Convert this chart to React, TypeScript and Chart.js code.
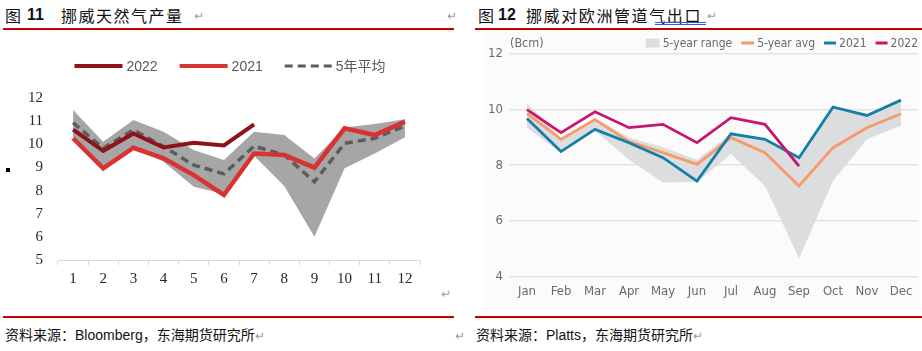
import React, { useEffect, useRef } from "react";
import { Chart, registerables } from "chart.js";

Chart.register(...registerables);

// ---------- Left chart (图11 挪威天然气产量) ----------
const leftCategories = ["1", "2", "3", "4", "5", "6", "7", "8", "9", "10", "11", "12"];
const left2022 = [10.63, 9.72, 10.47, 9.86, 10.07, 9.95, 10.86];
const left2021 = [10.26, 8.96, 9.85, 9.39, 8.67, 7.81, 9.6, 9.54, 8.99, 10.69, 10.4, 10.98];
const leftAvg = [10.93, 9.83, 10.62, 9.9, 9.1, 8.72, 9.92, 9.54, 8.38, 10.04, 10.26, 10.79];
const leftRangeMax = [11.48, 10.11, 11.05, 10.54, 9.75, 9.32, 10.54, 10.4, 9.39, 10.73, 10.88, 11.08];
const leftRangeMin = [10.3, 9.0, 9.85, 9.25, 8.17, 7.85, 9.5, 8.2, 6.0, 8.96, 9.6, 10.3];
const leftSeriesNames = ["2022", "2021", "5年平均"];

// ---------- Right chart (图12 挪威对欧洲管道气出口) ----------
const rightCategories = ["Jan", "Feb", "Mar", "Apr", "May", "Jun", "Jul", "Aug", "Sep", "Oct", "Nov", "Dec"];
const right2022 = [10.0, 9.17, 9.92, 9.35, 9.47, 8.81, 9.71, 9.47, 7.97];
const right2021 = [9.68, 8.49, 9.29, 8.81, 8.27, 7.43, 9.13, 8.93, 8.27, 10.09, 9.79, 10.34];
const rightAvg = [9.86, 8.93, 9.64, 8.85, 8.45, 8.03, 8.99, 8.45, 7.25, 8.63, 9.35, 9.85];
const rightRangeMax = [10.24, 8.98, 9.7, 9.0, 8.65, 8.2, 9.15, 8.95, 8.3, 10.0, 9.78, 10.3];
const rightRangeMin = [9.35, 8.45, 9.25, 8.2, 7.38, 7.4, 8.4, 7.25, 4.65, 7.43, 8.93, 9.43];
const rightSeriesNames = ["5-year range", "5-year avg", "2021", "2022"];
const rightUnit = "(Bcm)";

type LegendItem = { label: string; kind: "line" | "dash" | "box"; color: string; thick: number; sw: number };
type LegendCfg = { font: string; color: string; y: number; align: "center" | "right"; gapText: number; gapItem: number };

function makeLegendPlugin(id: string, items: LegendItem[], cfg: LegendCfg) {
  return {
    id,
    afterDraw(chart: any) {
      const ctx = chart.ctx as CanvasRenderingContext2D;
      ctx.save();
      ctx.font = cfg.font;
      const widths = items.map((it) => it.sw + cfg.gapText + ctx.measureText(it.label).width);
      const total = widths.reduce((a, b) => a + b, 0) + cfg.gapItem * (items.length - 1);
      let x = cfg.align === "center" ? chart.width / 2 - total / 2 : chart.chartArea.right - total;
      const y = cfg.y;
      items.forEach((it, i) => {
        if (it.kind === "box") {
          ctx.fillStyle = it.color;
          ctx.fillRect(x, y - it.thick / 2, it.sw, it.thick);
        } else {
          ctx.beginPath();
          ctx.strokeStyle = it.color;
          ctx.lineWidth = it.thick;
          ctx.lineCap = "butt";
          ctx.setLineDash(it.kind === "dash" ? [8, 5] : []);
          ctx.moveTo(x, y);
          ctx.lineTo(x + it.sw, y);
          ctx.stroke();
          ctx.setLineDash([]);
        }
        ctx.fillStyle = cfg.color;
        ctx.textBaseline = "middle";
        ctx.textAlign = "left";
        ctx.fillText(it.label, x + it.sw + cfg.gapText, y + 1);
        x += widths[i] + cfg.gapItem;
      });
      ctx.restore();
    },
  };
}

const C2022L = "#8f1218";
const C2021L = "#d83232";
const CAVGL = "#5c5c5c";
const CRANGEL = "#a6a6a6";

const C2022R = "#c8156f";
const C2021R = "#157fa8";
const CAVGR = "#f79a6a";
const CRANGER = "#dcdddf";

const narrow = '"Liberation Sans Narrow", "Arial Narrow", "DejaVu Sans Condensed", sans-serif';
const serif = '"Liberation Serif", "Times New Roman", serif';

function LeftChart() {
  const ref = useRef<HTMLCanvasElement>(null);
  useEffect(() => {
    const legend = makeLegendPlugin(
      "leftLegend",
      [
        { label: leftSeriesNames[0], kind: "line", color: C2022L, thick: 4, sw: 48 },
        { label: leftSeriesNames[1], kind: "line", color: C2021L, thick: 4, sw: 48 },
        { label: leftSeriesNames[2], kind: "dash", color: CAVGL, thick: 3, sw: 47 },
      ],
      { font: '14px "Liberation Sans", Arial, "Noto Sans CJK SC", sans-serif', color: "#595959", y: 26, align: "center", gapText: 4, gapItem: 22 }
    );
    const chart = new Chart(ref.current!, {
      type: "line",
      data: {
        labels: leftCategories,
        datasets: [
          { label: leftSeriesNames[0], data: left2022, borderColor: C2022L, borderWidth: 4, pointRadius: 0, fill: false, tension: 0 },
          { label: leftSeriesNames[1], data: left2021, borderColor: C2021L, borderWidth: 4.5, pointRadius: 0, fill: false, tension: 0 },
          { label: leftSeriesNames[2], data: leftAvg, borderColor: CAVGL, borderWidth: 3.5, borderDash: [8, 5], pointRadius: 0, fill: false, tension: 0 },
          { label: "max", data: leftRangeMax, borderColor: "rgba(0,0,0,0)", borderWidth: 0, backgroundColor: CRANGEL, pointRadius: 0, fill: "+1", tension: 0 },
          { label: "min", data: leftRangeMin, borderColor: "rgba(0,0,0,0)", borderWidth: 0, pointRadius: 0, fill: false, tension: 0 },
        ],
      } as any,
      options: {
        responsive: false,
        animation: false,
        layout: { padding: { top: 58, bottom: 7, left: 0, right: 40 } },
        plugins: { legend: { display: false }, tooltip: { enabled: false } },
        scales: {
          x: {
            offset: true,
            grid: { display: true, offset: true, drawOnChartArea: false, drawTicks: true, tickLength: 5, color: "#d9d9d9" },
            border: { display: true, color: "#d9d9d9" },
            ticks: { font: { family: serif, size: 15 }, color: "#262626", padding: 5, maxRotation: 0 },
          },
          y: {
            min: 5,
            max: 12,
            afterFit: (s: any) => { s.width = 58; },
            grid: { display: false, drawTicks: false },
            border: { display: false },
            ticks: { stepSize: 1, font: { family: serif, size: 15 }, color: "#262626", padding: 15 },
          },
        },
      } as any,
      plugins: [legend as any],
    });
    return () => chart.destroy();
  }, []);
  return (
    <canvas
      ref={ref}
      width={460}
      height={260}
      style={{ position: "absolute", left: 0, top: 40, width: 460, height: 260 }}
    />
  );
}

function RightChart() {
  const ref = useRef<HTMLCanvasElement>(null);
  useEffect(() => {
    const legend = makeLegendPlugin(
      "rightLegend",
      [
        { label: rightSeriesNames[0], kind: "box", color: CRANGER, thick: 9, sw: 14 },
        { label: rightSeriesNames[1], kind: "line", color: CAVGR, thick: 3, sw: 13 },
        { label: rightSeriesNames[2], kind: "line", color: C2021R, thick: 3, sw: 12 },
        { label: rightSeriesNames[3], kind: "line", color: C2022R, thick: 3, sw: 12 },
      ],
      { font: `12px ${narrow}`, color: "#6a6a6a", y: 11, align: "right", gapText: 3, gapItem: 9 }
    );
    const unitPlugin = {
      id: "unitLabel",
      afterDraw(chart: any) {
        const ctx = chart.ctx as CanvasRenderingContext2D;
        ctx.save();
        ctx.font = `12.5px ${narrow}`;
        ctx.fillStyle = "#6a6a6a";
        ctx.textBaseline = "middle";
        ctx.textAlign = "left";
        ctx.fillText(rightUnit, chart.chartArea.left, 12);
        ctx.restore();
      },
    };
    const chart = new Chart(ref.current!, {
      type: "line",
      data: {
        labels: rightCategories,
        datasets: [
          { label: rightSeriesNames[3], data: right2022, borderColor: C2022R, borderWidth: 2.8, pointRadius: 0, fill: false, tension: 0 },
          { label: rightSeriesNames[2], data: right2021, borderColor: C2021R, borderWidth: 2.8, pointRadius: 0, fill: false, tension: 0 },
          { label: rightSeriesNames[1], data: rightAvg, borderColor: CAVGR, borderWidth: 2.8, pointRadius: 0, fill: false, tension: 0 },
          { label: "max", data: rightRangeMax, borderColor: "rgba(0,0,0,0)", borderWidth: 0, backgroundColor: CRANGER, pointRadius: 0, fill: "+1", tension: 0 },
          { label: "min", data: rightRangeMin, borderColor: "rgba(0,0,0,0)", borderWidth: 0, pointRadius: 0, fill: false, tension: 0 },
        ],
      } as any,
      options: {
        responsive: false,
        animation: false,
        layout: { padding: { top: 22, bottom: 4, left: 0, right: 2 } },
        plugins: { legend: { display: false }, tooltip: { enabled: false } },
        scales: {
          x: {
            offset: true,
            grid: { display: false, drawTicks: false },
            border: { display: false },
            ticks: { font: { family: narrow, size: 13 }, color: "#6a6a6a", padding: 7, maxRotation: 0 },
          },
          y: {
            min: 4,
            max: 12,
            afterFit: (s: any) => { s.width = 40; },
            grid: { display: true, drawTicks: false, color: "#e4e4e4", lineWidth: 1.5 },
            border: { display: false },
            ticks: { stepSize: 2, font: { family: narrow, size: 13 }, color: "#6a6a6a", padding: 7 },
          },
        },
      } as any,
      plugins: [legend as any, unitPlugin as any],
    });
    return () => chart.destroy();
  }, []);
  return (
    <canvas
      ref={ref}
      width={450}
      height={278}
      style={{ position: "absolute", left: 470, top: 32, width: 450, height: 278 }}
    />
  );
}

const cjk = '"Noto Sans CJK SC", sans-serif';
const sans = '"Liberation Sans", Arial, "Noto Sans CJK SC", sans-serif';

const abs = (left: number, top: number, extra: React.CSSProperties = {}): React.CSSProperties => ({
  position: "absolute",
  left,
  top,
  whiteSpace: "nowrap",
  ...extra,
});

const mark: React.CSSProperties = { color: "#a0a0a0", fontSize: 12, fontFamily: sans };

export default function App() {
  return (
    <div style={{ position: "absolute", left: 0, top: 0, width: 922, height: 351, background: "#ffffff", overflow: "hidden", color: "#111" }}>
      {/* right panel background */}
      <div style={abs(484, 31, { width: 436, height: 277, background: "#fbfbfb" })} />

      {/* titles */}
      <span style={abs(5, 5, { fontFamily: cjk, fontSize: 16, lineHeight: "20px" })}>图</span>
      <span style={abs(27, 5, { fontFamily: sans, fontSize: 16, fontWeight: "bold", lineHeight: "20px" })}>11</span>
      <span style={abs(61, 5, { fontFamily: cjk, fontSize: 16, lineHeight: "20px", letterSpacing: 1.5 })}>挪威天然气产量</span>
      <span style={abs(194, 6, { ...mark, lineHeight: "20px" })}>↵</span>
      <span style={abs(447, 6, { ...mark, lineHeight: "20px" })}>↵</span>

      <span style={abs(478, 5, { fontFamily: cjk, fontSize: 16, lineHeight: "20px" })}>图</span>
      <span style={abs(498, 5, { fontFamily: sans, fontSize: 16, fontWeight: "bold", lineHeight: "20px" })}>12</span>
      <span style={abs(526, 5, { fontFamily: cjk, fontSize: 16, lineHeight: "20px", letterSpacing: 1.6 })}>挪威对欧洲管道气出口</span>
      <div style={abs(655, 22, { width: 51, height: 1, borderTop: "1px solid #2d5fd0", borderBottom: "1px solid #2d5fd0" })} />
      <span style={abs(707, 6, { ...mark, lineHeight: "20px" })}>↵</span>

      {/* red rules */}
      <div style={abs(3, 28, { width: 451, height: 2, background: "#c40000" })} />
      <div style={abs(475, 28, { width: 447, height: 2, background: "#c40000" })} />
      <div style={abs(3, 316, { width: 451, height: 2, background: "#c40000" })} />
      <div style={abs(475, 316, { width: 447, height: 2, background: "#c40000" })} />

      {/* bullet + paragraph marks in left cell */}
      <div style={abs(6, 168, { width: 4, height: 4, background: "#000" })} />
      <span style={abs(441, 285, { ...mark, lineHeight: "18px" })}>↵</span>

      <LeftChart />
      <RightChart />

      {/* sources */}
      <span style={abs(5, 326, { fontFamily: sans, fontSize: 14, lineHeight: "18px" })}>
        资料来源：Bloomberg，东海期货研究所<span style={mark}>↵</span>
      </span>
      <span style={abs(455, 327, { ...mark, lineHeight: "18px" })}>↵</span>
      <span style={abs(476, 326, { fontFamily: sans, fontSize: 14, lineHeight: "18px" })}>
        资料来源：Platts，东海期货研究所<span style={mark}>↵</span>
      </span>
    </div>
  );
}
